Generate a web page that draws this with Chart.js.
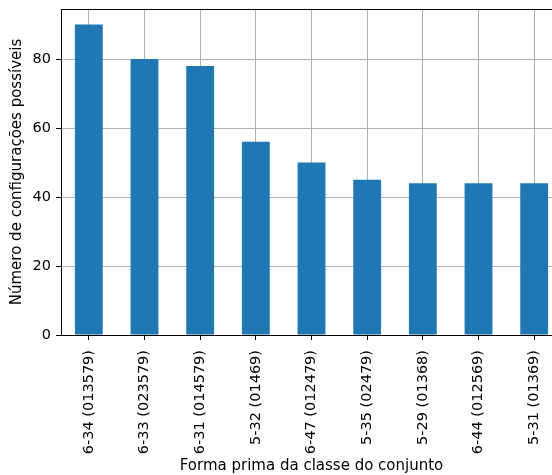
<!DOCTYPE html>
<html>
<head>
<meta charset="utf-8">
<script src="https://cdn.jsdelivr.net/npm/chart.js@4/dist/chart.umd.min.js"></script>
<style>
  html, body { margin: 0; padding: 0; background: #fff; overflow: hidden; }
  #wrap { width: 552px; height: 475px; overflow: hidden; }
</style>
</head>
<body>
<div id="wrap"><canvas id="chart" width="563" height="475"></canvas></div>
<script>
// prime forms and how many configurations each one allows
const formas = ['6-34 (013579)', '6-33 (023579)', '6-31 (014579)', '5-32 (01469)', '6-47 (012479)',
                '5-35 (02479)', '5-29 (01368)', '6-44 (012569)', '5-31 (01369)'];
const configuracoes = [90, 80, 78, 56, 50, 45, 44, 44, 44];
const yTicks = [0, 20, 40, 60, 80];

const TICK_FONT = { family: 'DejaVu Sans', size: 14.5 };
const TITLE_FONT = { family: 'DejaVu Sans', size: 15 };

// full axes frame (top and right spines too)
const frame = {
  id: 'frame',
  afterDraw(chart){
    const {ctx, chartArea: a} = chart;
    ctx.save();
    ctx.strokeStyle = '#000';
    ctx.lineWidth = 1;
    ctx.strokeRect(Math.round(a.left) + 0.5, Math.round(a.top) + 0.5,
                   Math.round(a.right - a.left), Math.round(a.bottom - a.top));
    ctx.restore();
  }
};

new Chart(document.getElementById('chart'), {
  type: 'bar',
  data: {
    labels: formas,
    datasets: [{
      data: configuracoes,
      backgroundColor: '#1f77b4',
      borderWidth: 0,
      barPercentage: 0.5,
      categoryPercentage: 1
    }]
  },
  options: {
    responsive: false,
    animation: false,
    layout: { padding: { top: 9, right: 1, left: 0, bottom: 0 } },
    plugins: { legend: { display: false }, tooltip: { enabled: false } },
    scales: {
      x: {
        z: 1,
        afterFit(s){ s.height = 140; s.paddingLeft = 0; s.paddingRight = 0; },
        grid: { offset: false, color: '#b0b0b0', lineWidth: 1, tickColor: '#000', tickLength: 5 },
        border: { display: false },
        ticks: { font: TICK_FONT, color: '#000', maxRotation: 90, minRotation: 90, padding: 10 },
        title: { display: true, text: 'Forma prima da classe do conjunto', font: TITLE_FONT, color: '#000',
                 padding: { top: 0, bottom: 0 } }
      },
      y: {
        z: 1,
        min: 0,
        max: 94.5,
        afterFit(s){ s.width = 61; s.paddingTop = 0; s.paddingBottom = 0; },
        afterBuildTicks(s){ s.ticks = yTicks.map(v => ({ value: v })); },
        grid: { color: '#b0b0b0', lineWidth: 1, tickColor: '#000', tickLength: 5 },
        border: { display: false },
        ticks: { font: TICK_FONT, color: '#000', padding: 5 },
        title: { display: true, text: 'Número de configurações possíveis', font: TITLE_FONT, color: '#000',
                 padding: { top: 8, bottom: 0 } }
      }
    }
  },
  plugins: [frame]
});
</script>
</body>
</html>
